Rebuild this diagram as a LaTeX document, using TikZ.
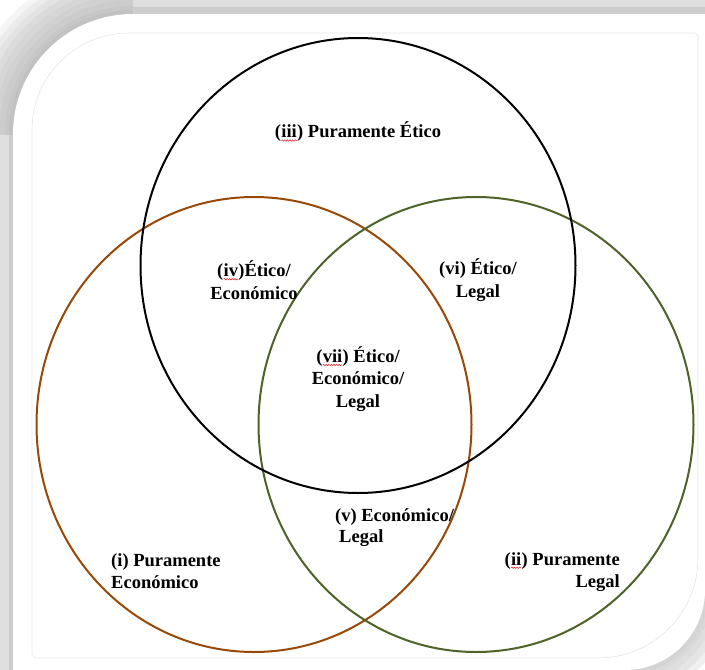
\documentclass[tikz,border=0pt]{standalone}
\usepackage{fontspec}
\setmainfont{Liberation Serif}
\usetikzlibrary{shapes.geometric,decorations.pathmorphing}
\definecolor{ecobrown}{HTML}{984807}
\definecolor{legalgreen}{HTML}{4F6228}
\definecolor{bandA}{HTML}{DEDEDE}
\definecolor{bandB}{HTML}{CDCDCD}
\definecolor{innerline}{HTML}{E6E6E6}
\definecolor{spellred}{HTML}{E03030}
\newcommand\spellchk[1]{\tikz[baseline=(sw.base),x=1cm,y=1cm]{\node[inner sep=0pt,outer sep=0pt](sw){#1};\draw[spellred,line width=0.6pt,decorate,decoration={snake,amplitude=0.7pt,segment length=2.6pt}]([yshift=-2.6pt]sw.base west)--([yshift=-2.6pt]sw.base east);}}
\tikzset{
  venn/.style={ellipse,draw,line width=2pt,inner sep=0pt,minimum width=435pt,minimum height=455pt},
  lbl/.style={inner sep=0pt,font=\fontsize{18.5}{22.5}\selectfont\bfseries},
}
\begin{document}
\begin{tikzpicture}[x=1pt,y=-1pt]
\useasboundingbox (0,0) rectangle (705,670);
\fill[white] (0,0) rectangle (705,670);
% top and left bands
\fill[bandA] (0,0) rectangle (705,14);
\fill[bandB] (0,7) rectangle (705,14);
\fill[bandA] (0,0) rectangle (13,670);
\fill[bandB] (9,0) rectangle (13,670);
% top-left shadow corner
\begin{scope}
\clip (0,0) rectangle (133,134);
\fill[white] (0,0) rectangle (133,134);
\foreach \r/\c in {176/100,170/96,164/92,158/89,152/86,146/84,140/82,134/80,128/78,124/76}
  \fill[black!\the\numexpr100-\c\relax!white] (133,134) circle[radius=\r];
\end{scope}
% bottom-right shadow corner
\begin{scope}
\clip (625,590) rectangle (705,670);
\foreach \r/\c in {115/100,108/94,101/90,94/87,88/85,84/83}
  \fill[black!\the\numexpr100-\c\relax!white] (625,590) circle[radius=\r];
\end{scope}
% white page
\fill[white] (13,670) -- (13,134) arc[start angle=180,end angle=270,radius=120]
  -- (705,14) -- (705,590) arc[start angle=0,end angle=90,radius=80] -- cycle;
% inner thin border
\draw[innerline,line width=0.6pt] (32,655) -- (32,130) arc[start angle=180,end angle=270,radius=97]
  -- (695,33) -- (698,36) -- (698,558) arc[start angle=0,end angle=90,radius=100] -- (35,658) -- cycle;
% circles
\node[venn,draw=ecobrown] (eco) at (254,424.5) {};
\node[venn,draw=legalgreen] (legal) at (476,424.5) {};
\node[venn,draw=black] (etico) at (358,265.5) {};
% labels
\node[lbl] (t3) at (358,132) {(\spellchk{iii}) Puramente Ético};
\node[lbl,align=center] (t4) at (254,280) {(\spellchk{iv})Ético/\\Económico};
\node[lbl,align=center] (t6) at (478,280) {(vi) Ético/\\Legal};
\node[lbl,align=center] (t7) at (358,379) {(\spellchk{vii}) Ético/\\Económico/\\Legal};
\node[lbl,align=left,anchor=west,font=\fontsize{18.5}{21}\selectfont\bfseries] (t5) at (335,528) {(v) Económico/\\\hspace*{4pt}Legal};
\node[lbl,align=left,anchor=west] (t1) at (111,571) {(i) Puramente\\Económico};
\node[lbl,align=right,anchor=east] (t2) at (620,572) {(\spellchk{ii}) Puramente\\Legal};
\end{tikzpicture}
\end{document}
